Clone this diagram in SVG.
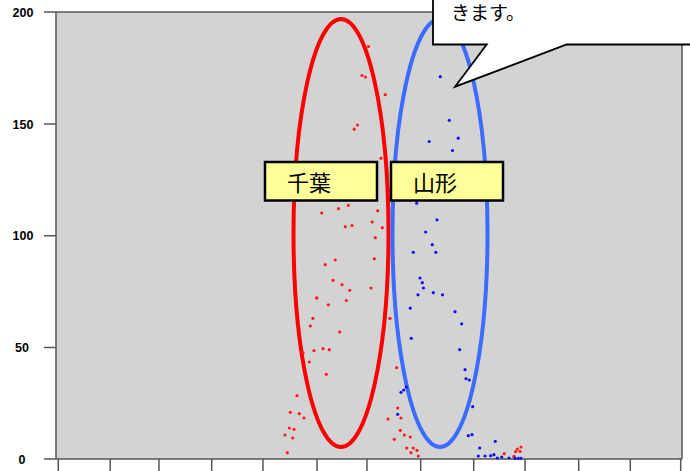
<svg xmlns="http://www.w3.org/2000/svg" width="690" height="471" viewBox="0 0 690 471">
<style>
.ax{stroke:#555;stroke-width:1.5;fill:none}
.yl{font-family:"Liberation Sans",Arial,sans-serif;font-size:12.5px;font-weight:bold;fill:#000;text-anchor:middle}
.r{fill:#ff1a1a}
.b{fill:#1010ee}
.lbl rect{fill:#ffff99;stroke:#000;stroke-width:2.5}
.lbl text{font-family:"Noto Sans CJK JP","Noto Sans CJK SC",sans-serif;font-size:22px;fill:#000}
</style>
<rect width="690" height="471" fill="#fff"/>
<g id="plot">
<rect x="56" y="12" width="626" height="447" fill="#d3d3d3"/>
<path class="ax" d="M44 12H682V459M56 12V459M44 459H682"/>
<path class="ax" d="M44 124H56M44 235.7H56M44 347.6H56"/>
<path class="ax" d="M58.3 459V471M110.2 459V471M159 459V471M211.7 459V471M263 459V471M317 459V471M367 459V471M420.7 459V471M473.7 459V471M525 459V471M578.7 459V471M630.3 459V471M680.7 459V471"/>
<text class="yl" x="23" y="17">200</text>
<text class="yl" x="23" y="128.5">150</text>
<text class="yl" x="23" y="240">100</text>
<text class="yl" x="22" y="352">50</text>
<text class="yl" x="22" y="464">0</text>
</g>
<g id="ellipses">
<ellipse id="chiba-ring" cx="341" cy="233" rx="47.5" ry="214" fill="none" stroke="#ff0000" stroke-width="4"/>
<ellipse id="yamagata-ring" cx="440" cy="233" rx="47.5" ry="214" fill="none" stroke="#3a6cff" stroke-width="4"/>
</g>
<g id="red-points" class="r">
<circle cx="368.5" cy="46.5" r="1.6"/><circle cx="362" cy="75.5" r="1.6"/><circle cx="365.5" cy="77" r="1.6"/><circle cx="385.3" cy="94.7" r="1.6"/><circle cx="357.5" cy="125" r="1.6"/><circle cx="354.2" cy="129.2" r="1.6"/><circle cx="381" cy="158.2" r="1.6"/>
<circle cx="321.7" cy="213" r="1.6"/><circle cx="338.5" cy="208.7" r="1.6"/><circle cx="348.3" cy="205.3" r="1.6"/><circle cx="377.7" cy="210.8" r="1.6"/><circle cx="345.3" cy="226.7" r="1.6"/><circle cx="352" cy="225.5" r="1.6"/><circle cx="372.2" cy="222" r="1.6"/><circle cx="382.3" cy="227.7" r="1.6"/><circle cx="375.3" cy="237.7" r="1.6"/><circle cx="335.2" cy="260" r="1.6"/><circle cx="325.2" cy="264.7" r="1.6"/><circle cx="374.3" cy="258.8" r="1.6"/><circle cx="333" cy="280.3" r="1.6"/><circle cx="342" cy="284.7" r="1.6"/><circle cx="349.7" cy="290.3" r="1.6"/><circle cx="371" cy="288" r="1.6"/><circle cx="316.7" cy="298" r="1.8"/><circle cx="346.3" cy="300.5" r="1.6"/><circle cx="328.3" cy="304.8" r="1.6"/><circle cx="312.8" cy="318.3" r="1.6"/><circle cx="310.3" cy="326" r="1.6"/><circle cx="339.7" cy="332" r="1.6"/><circle cx="303" cy="352.7" r="1.6"/><circle cx="314" cy="350.7" r="1.6"/><circle cx="323" cy="348.7" r="1.6"/><circle cx="329.3" cy="349.7" r="1.6"/><circle cx="309.3" cy="362" r="1.6"/><circle cx="326.3" cy="374.3" r="1.6"/><circle cx="297" cy="395.7" r="1.6"/><circle cx="290.3" cy="412.3" r="1.6"/><circle cx="299.3" cy="413.7" r="1.6"/><circle cx="304" cy="418" r="1.6"/><circle cx="289.3" cy="428" r="1.6"/><circle cx="294" cy="429.3" r="1.6"/><circle cx="285" cy="435" r="1.6"/><circle cx="292.7" cy="438" r="1.6"/><circle cx="287.3" cy="452.7" r="1.6"/>
<circle cx="390" cy="318.3" r="1.6"/><circle cx="396.7" cy="367.7" r="1.6"/><circle cx="397.7" cy="408" r="1.6"/><circle cx="388" cy="419" r="1.6"/><circle cx="401" cy="418" r="1.6"/><circle cx="400.3" cy="430.3" r="1.6"/><circle cx="404.3" cy="435" r="1.6"/><circle cx="410.3" cy="437" r="1.6"/><circle cx="394.3" cy="439.3" r="1.6"/><circle cx="406.7" cy="448" r="1.6"/><circle cx="413.3" cy="448" r="1.6"/><circle cx="417" cy="450.3" r="1.6"/><circle cx="411" cy="452.7" r="1.6"/><circle cx="418.3" cy="456" r="1.6"/>
<circle cx="504.3" cy="453.7" r="1.6"/><circle cx="514" cy="456.3" r="1.6"/><circle cx="515.7" cy="451.7" r="1.6"/><circle cx="517.3" cy="449" r="1.6"/><circle cx="520" cy="451.3" r="1.6"/><circle cx="521" cy="447" r="1.6"/>
</g>
<g id="blue-points" class="b">
<circle cx="440.3" cy="76.7" r="1.6"/><circle cx="449.3" cy="120.3" r="1.6"/><circle cx="458.2" cy="138.2" r="1.6"/><circle cx="429.2" cy="141.5" r="1.6"/><circle cx="452.5" cy="150.5" r="1.6"/>
<circle cx="416.7" cy="203.2" r="1.6"/><circle cx="437" cy="219.8" r="1.6"/><circle cx="425.7" cy="232" r="1.6"/><circle cx="432.3" cy="244.7" r="1.6"/><circle cx="413.3" cy="252.3" r="1.6"/><circle cx="435.8" cy="252.3" r="1.6"/><circle cx="420" cy="278" r="1.6"/><circle cx="422.3" cy="282.7" r="1.6"/><circle cx="423.5" cy="288" r="1.6"/><circle cx="418" cy="294.8" r="1.6"/><circle cx="433.3" cy="292.7" r="1.6"/><circle cx="442.5" cy="294.8" r="1.6"/><circle cx="410.3" cy="308.2" r="1.6"/><circle cx="455" cy="311.7" r="1.6"/><circle cx="461.7" cy="323.8" r="1.6"/><circle cx="411.3" cy="338.3" r="1.6"/><circle cx="459.7" cy="349.7" r="1.6"/><circle cx="465" cy="369.7" r="1.6"/><circle cx="466" cy="378.7" r="1.6"/><circle cx="469.3" cy="380" r="1.6"/><circle cx="406.3" cy="387" r="1.6"/><circle cx="401" cy="392.3" r="1.6"/><circle cx="403.7" cy="390" r="1.6"/><circle cx="397.7" cy="414.3" r="1.6"/><circle cx="472.7" cy="406.7" r="1.6"/><circle cx="468.3" cy="435.7" r="1.6"/><circle cx="472" cy="434.7" r="1.6"/><circle cx="479.7" cy="448" r="1.6"/><circle cx="495.3" cy="441.3" r="1.6"/><circle cx="478.3" cy="456" r="1.6"/><circle cx="485" cy="456" r="1.6"/><circle cx="490.7" cy="455.7" r="1.6"/><circle cx="494" cy="454.7" r="1.6"/><circle cx="497.3" cy="458" r="1.6"/><circle cx="501.7" cy="457" r="1.6"/><circle cx="509" cy="458" r="1.6"/><circle cx="515" cy="458.3" r="1.6"/><circle cx="518.3" cy="458.3" r="1.6"/><circle cx="521" cy="458.3" r="1.6"/>
</g>
<g id="label-chiba" class="lbl">
<rect x="265" y="162" width="112" height="38.5"/>
<text x="287" y="191">千葉</text>
</g>
<g id="label-yamagata" class="lbl">
<rect x="391" y="162" width="112" height="38.5"/>
<text x="413" y="191">山形</text>
</g>
<g id="callout">
<path d="M433 -5V44.5H486.7L455 86.7L566.7 44.5H695V-5Z" fill="#fff" stroke="#000" stroke-width="1.8" stroke-linejoin="miter"/>
<text x="451" y="20" font-family="'Noto Sans CJK JP','Noto Sans CJK SC',sans-serif" font-size="19" fill="#000">きます。</text>
</g>
</svg>
